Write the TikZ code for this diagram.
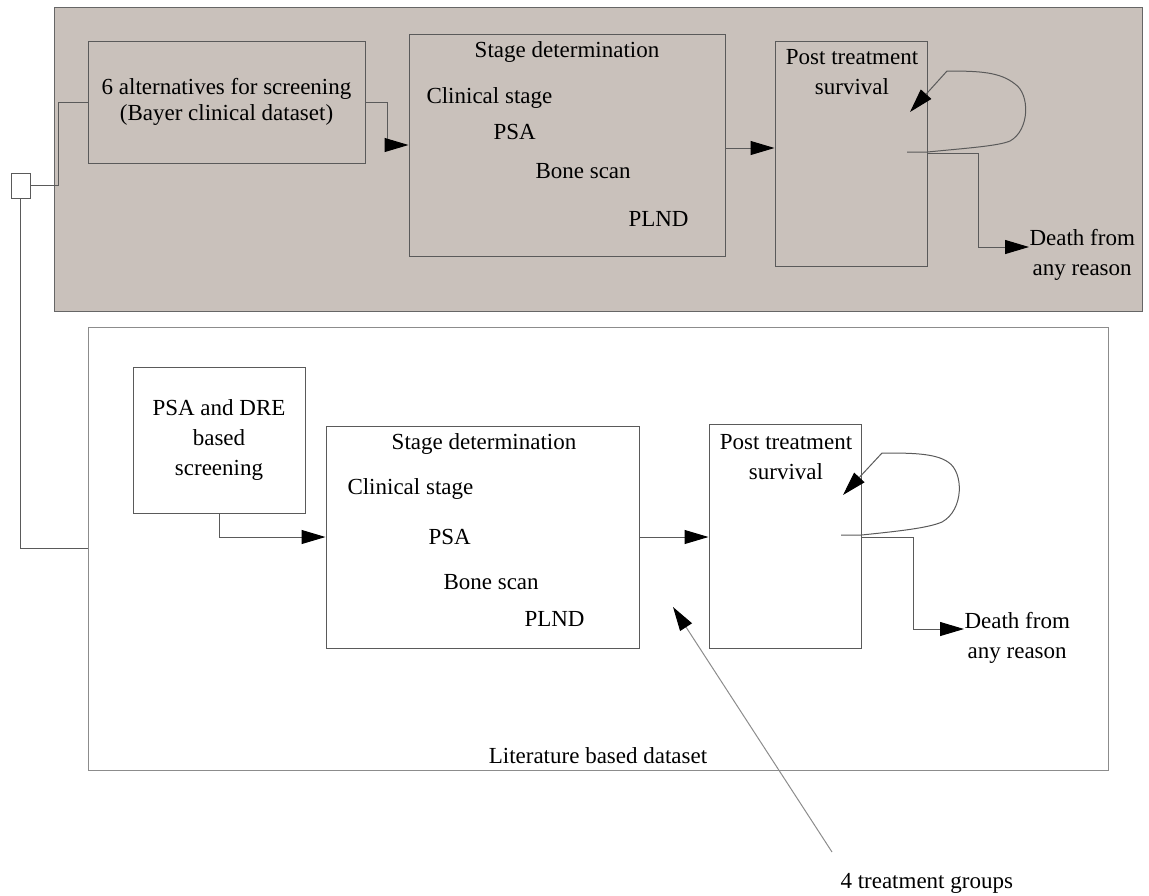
\documentclass[tikz,border=0pt]{standalone}
\usepackage{fontspec}
\setmainfont{Liberation Serif}
\usetikzlibrary{arrows.meta}
\definecolor{panelgrey}{RGB}{201,193,187}
\definecolor{linegrey}{RGB}{90,90,90}
\begin{document}
\begin{tikzpicture}[x=0.5pt,y=-0.5pt,
  line width=0.5pt,
  every node/.style={font=\fontsize{11.5}{15}\selectfont},
  box/.style={draw=linegrey, rectangle, inner sep=0pt},
  lbl/.style={inner sep=0pt, text height=0.68em, text depth=0pt},
  multi/.style={inner sep=0pt, align=center},
  wire/.style={draw=linegrey},
  arr/.style={draw=linegrey, -{Triangle[length=12pt,width=7pt,color=black]}}
]
\useasboundingbox (0,0) rectangle (1149,895);

% panels
\node[box, fill=panelgrey, draw=black!60, minimum width=544pt, minimum height=152pt] (top) at (598,159) {};
\node[box, draw=black!45, minimum width=510pt, minimum height=221.5pt] (bot) at (598,548.5) {};

% junction square on the left
\node[box, fill=white, minimum width=9.5pt, minimum height=12.5pt] (sq) at (20.5,185.5) {};

% ---------- upper branch: Bayer clinical dataset ----------
\node[box, minimum width=138.5pt, minimum height=61pt, multi] (scrA) at (226.5,102)
  {6 alternatives for screening\\[-2pt](Bayer clinical dataset)};
\node[box, minimum width=158pt, minimum height=111pt] (stA) at (567,145) {};
\node[lbl] (stAt) at (567,51) {Stage determination};
\node[lbl, anchor=west] (stA1) at (426,97) {Clinical stage};
\node[lbl, anchor=west] (stA2) at (493,133) {PSA};
\node[lbl, anchor=west] (stA3) at (535,172) {Bone scan};
\node[lbl, anchor=west] (stA4) at (628,220) {PLND};

\node[box, minimum width=76pt, minimum height=112.5pt] (ptA) at (851,153.5) {};
\node[multi] (ptAt) at (852,72) {Post treatment\\survival};
\node[multi, anchor=west] (dA) at (1029,255) {Death from\\any reason};

\coordinate (loopAs) at (907,152);
\coordinate (loopAe) at (910,112);

% ---------- lower branch: literature based dataset ----------
\node[box, minimum width=86pt, minimum height=73pt, multi] (scrB) at (219,440)
  {PSA and DRE\\based\\screening};
\node[box, minimum width=156.5pt, minimum height=111pt] (stB) at (482.5,537) {};
\node[lbl] (stBt) at (484,443) {Stage determination};
\node[lbl, anchor=west] (stB1) at (347,488) {Clinical stage};
\node[lbl, anchor=west] (stB2) at (428,538) {PSA};
\node[lbl, anchor=west] (stB3) at (443,583) {Bone scan};
\node[lbl, anchor=west] (stB4) at (524,620) {PLND};

\node[box, minimum width=76pt, minimum height=112pt] (ptB) at (785,536) {};
\node[multi] (ptBt) at (786,457) {Post treatment\\survival};
\node[multi, anchor=west] (dB) at (964,638) {Death from\\any reason};

\coordinate (loopBs) at (841,535);
\coordinate (loopBe) at (843,495);

\node[lbl] (lit) at (598,757) {Literature based dataset};
\node[lbl, anchor=west] (tg) at (840,882) {4 treatment groups};
\coordinate (tgs) at (832,852);
\coordinate (tge) at (673,607);

% ---------- connectors ----------
\draw[wire] (sq.east) -- (58,185.5) |- (scrA.west);
\draw[wire] (sq.south) |- (bot.west);

\draw[arr] (scrA.east) -- (387,102) |- (stA.west);
\draw[arr] (stA.east |- 0,148) -- (ptA.west |- 0,148);
\draw[arr] (loopAs) -- (ptA.east |- loopAs)
  .. controls (968,148) and (998,146) .. (1010,141)
  .. controls (1030,130) and (1030,94) .. (1015,84)
  .. controls (1000,72) and (980,71) .. (947,71) -- (loopAe);
\draw[arr] (ptA.east |- 0,153) -| (978,247) -- (dA.west |- 0,247);

\draw[arr] (scrB.south) |- (stB.west);
\draw[arr] (stB.east) -- (ptB.west |- stB.east);
\draw[arr] (loopBs) -- (ptB.east |- loopBs)
  .. controls (900,531) and (928,528) .. (942,522)
  .. controls (964,510) and (964,472) .. (948,462)
  .. controls (935,453) and (910,453) .. (882,453) -- (loopBe);
\draw[arr] (ptB.east |- 0,537) -| (913,629) -- (dB.west |- 0,629);

\draw[arr, draw=black!45] (tgs) -- (tge);
\end{tikzpicture}
\end{document}
